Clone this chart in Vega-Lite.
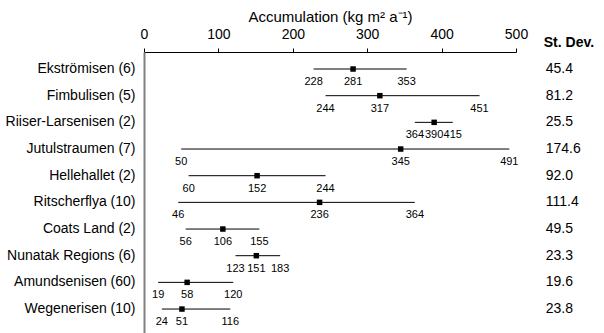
{
  "$schema": "https://vega.github.io/schema/vega-lite/v6.json",
  "width": 372,
  "height": 281,
  "autosize": {"type": "none"},
  "padding": {"left": 144, "top": 52, "right": 88, "bottom": 0},
  "background": "white",
  "config": {
    "view": {"stroke": null},
    "font": "Liberation Sans",
    "axis": {"labelColor": "black", "titleColor": "black", "labelFont": "Liberation Sans", "titleFont": "Liberation Sans"}
  },
  "data": {
    "values": [
      {"region": "Ekströmisen (6)", "min": 228, "mean": 281, "max": 353, "sd": 45.4},
      {"region": "Fimbulisen (5)", "min": 244, "mean": 317, "max": 451, "sd": 81.2},
      {"region": "Riiser-Larsenisen (2)", "min": 364, "mean": 390, "max": 415, "sd": 25.5},
      {"region": "Jutulstraumen (7)", "min": 50, "mean": 345, "max": 491, "sd": 174.6},
      {"region": "Hellehallet (2)", "min": 60, "mean": 152, "max": 244, "sd": 92.0},
      {"region": "Ritscherflya (10)", "min": 46, "mean": 236, "max": 364, "sd": 111.4},
      {"region": "Coats Land (2)", "min": 56, "mean": 106, "max": 155, "sd": 49.5},
      {"region": "Nunatak Regions (6)", "min": 123, "mean": 151, "max": 183, "sd": 23.3},
      {"region": "Amundsenisen (60)", "min": 19, "mean": 58, "max": 120, "sd": 19.6},
      {"region": "Wegenerisen (10)", "min": 24, "mean": 51, "max": 116, "sd": 23.8}
    ]
  },
  "encoding": {
    "y": {
      "field": "region",
      "type": "nominal",
      "sort": null,
      "scale": {"type": "band", "paddingInner": 0, "paddingOuter": 0.268, "align": 0.257},
      "axis": {
        "title": null,
        "orient": "left",
        "domain": true,
        "domainColor": "#808080",
        "domainWidth": 2,
        "ticks": false,
        "labelFontSize": 14,
        "labelPadding": 9,
        "grid": false
      }
    }
  },
  "layer": [
    {
      "mark": {"type": "rule", "color": "black", "strokeWidth": 1},
      "encoding": {
        "x": {
          "field": "min",
          "type": "quantitative",
          "scale": {"domain": [0, 500], "nice": false},
          "axis": {
            "orient": "top",
            "values": [0, 50, 100, 150, 200, 250, 300, 350, 400, 450, 500],
            "labelExpr": "datum.value % 100 === 0 ? datum.label : ''",
            "title": "Accumulation (kg m² a⁻¹)",
            "titleFontSize": 15,
            "titleFontWeight": "normal",
            "titlePadding": 3,
            "labelFontSize": 14,
            "labelPadding": 7,
            "labelFlush": false,
            "tickSize": 4,
            "tickColor": "black",
            "domainColor": "black",
            "grid": false
          }
        },
        "x2": {"field": "max"}
      }
    },
    {
      "mark": {"type": "square", "color": "black", "size": 30, "opacity": 1, "filled": true},
      "encoding": {"x": {"field": "mean", "type": "quantitative"}}
    },
    {
      "transform": [{"fold": ["min", "mean", "max"], "as": ["stat", "val"]}],
      "mark": {"type": "text", "dy": 13, "fontSize": 11, "baseline": "middle", "align": "center", "color": "black"},
      "encoding": {
        "x": {"field": "val", "type": "quantitative"},
        "text": {"field": "val", "type": "quantitative"}
      }
    },
    {
      "mark": {"type": "text", "align": "left", "baseline": "middle", "fontSize": 14, "color": "black"},
      "encoding": {
        "x": {"datum": 540},
        "text": {"field": "sd", "type": "quantitative", "format": ".1f"}
      }
    },
    {
      "transform": [{"filter": "datum.region === 'Ekströmisen (6)'"}],
      "mark": {"type": "text", "align": "left", "baseline": "middle", "fontSize": 14, "fontWeight": "bold", "color": "black", "dy": -26, "dx": -2},
      "encoding": {
        "x": {"datum": 540},
        "text": {"value": "St. Dev."}
      }
    }
  ]
}
